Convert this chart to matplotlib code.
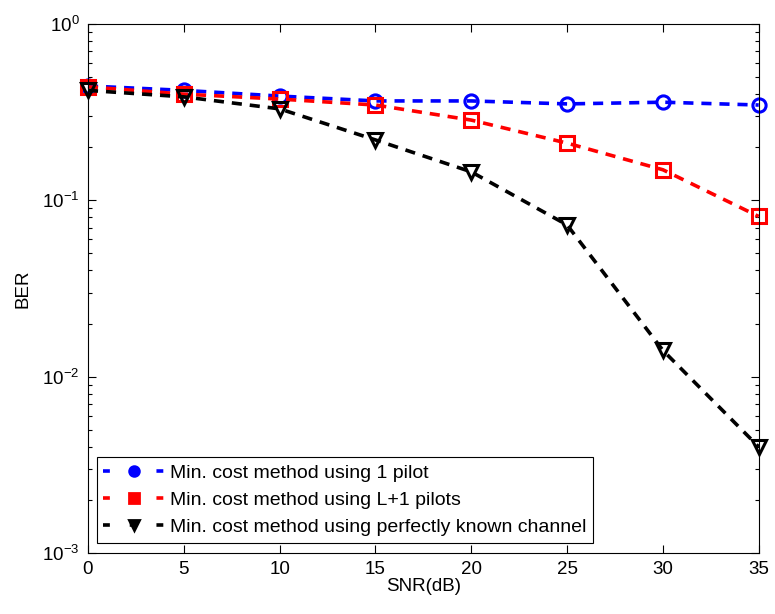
import matplotlib.pyplot as plt
from matplotlib.lines import Line2D
from matplotlib.ticker import LogLocator, NullFormatter

plt.rcParams['font.family'] = ['Liberation Sans', 'DejaVu Sans']
plt.rcParams['mathtext.fontset'] = 'custom'
plt.rcParams['mathtext.rm'] = 'Liberation Sans'
plt.rcParams['mathtext.it'] = 'Liberation Sans:italic'

snr = [0, 5, 10, 15, 20, 25, 30, 35]
ber_1pilot = [0.445, 0.42, 0.39, 0.366, 0.366, 0.352, 0.36, 0.347]
ber_L1pilots = [0.44, 0.40, 0.375, 0.347, 0.285, 0.211, 0.149, 0.081]
ber_known = [0.42, 0.386, 0.33, 0.22, 0.145, 0.0725, 0.0141, 0.0040]

labels = ['Min. cost method using 1 pilot',
          'Min. cost method using L+1 pilots',
          'Min. cost method using perfectly known channel']
colors = ['#0000ff', '#ff0000', '#000000']
markers = ['o', 's', 'v']
series = [ber_1pilot, ber_L1pilots, ber_known]

fig = plt.figure(figsize=(7.75, 6.14), dpi=100)
ax = fig.add_axes([0.1135, 0.0993, 0.8655, 0.8617])

for y, c, m in zip(series, colors, markers):
    ax.semilogy(snr, y, linestyle='--', color=c, linewidth=2.6, dashes=(2.8, 2.2),
                marker=m, markersize=9.5, markerfacecolor='none',
                markeredgewidth=2.2, clip_on=False)

ax.set_xlim(0, 35)
ax.set_ylim(1e-3, 1)
ax.set_xticks(snr)
ax.yaxis.set_major_locator(LogLocator(base=10, numticks=10))
ax.yaxis.set_minor_locator(LogLocator(base=10, subs=range(2, 10), numticks=10))
ax.yaxis.set_minor_formatter(NullFormatter())
ax.tick_params(which='both', direction='in', top=True, right=True,
               labelsize=13.5, colors='black')
ax.tick_params(which='major', length=6, width=0.8, pad=6)
ax.tick_params(which='minor', length=3, width=0.8)
ax.set_xlabel('SNR(dB)', fontsize=13.5, labelpad=0)
ax.set_ylabel('BER', fontsize=13.5, labelpad=8)

# legend shows filled markers with a short dash either side, like the original
handles = [Line2D([], [], linestyle='--', color=c, linewidth=2.6, dashes=(1.9, 5.5),
                  marker=m, markersize=7, markerfacecolor=c, markeredgewidth=2)
           for c, m in zip(colors, markers)]
leg = ax.legend(handles, labels, loc='lower left', bbox_to_anchor=(0.013, 0.019),
                borderaxespad=0, fontsize=14, fancybox=False, framealpha=1,
                edgecolor='black', handlelength=3.1, handletextpad=0.3,
                labelspacing=0.5, borderpad=0.35)
leg.get_frame().set_linewidth(0.8)

fig.savefig('out.png', dpi=100)
